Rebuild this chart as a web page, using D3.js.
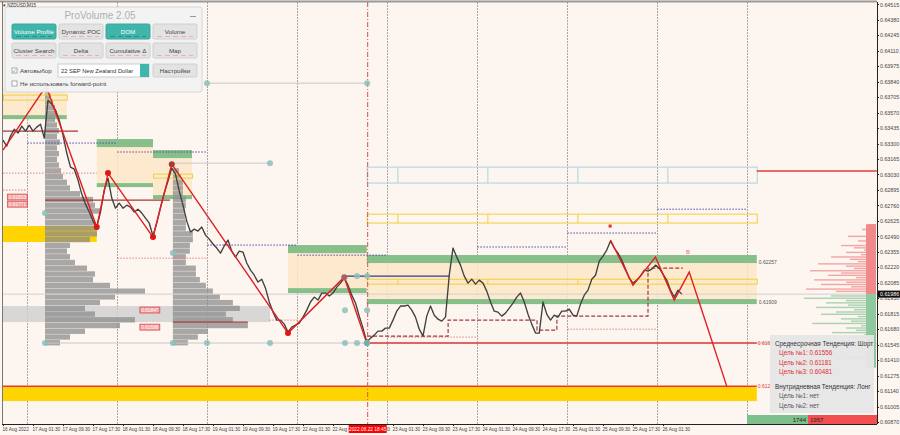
<!DOCTYPE html>
<meta charset="utf-8">
<style>
body { margin: 0; background: #fdf5f0; }
svg { display: block; font-family: "Liberation Sans", Arial, sans-serif; }
.axis path, .axis line { stroke: #222; shape-rendering: crispEdges; }
.axis text { fill: #444; }
.grid { stroke: #a8a8a8; stroke-dasharray: 2,1; shape-rendering: crispEdges; }
</style>
<body>
<script src="https://d3js.org/d3.v7.min.js"></script>
<script>
// hourly closes, hour 0 = 16 Aug 17:30 (trading hours only)
var closes = [0.63330,0.63278,0.63365,0.63425,0.63391,0.63452,0.63408,0.63460,0.63408,0.63443,
  0.63469,0.63347,0.63679,0.63644,0.63592,0.63504,0.63373,0.63217,0.63094,0.63076,
  0.62981,0.62859,0.62771,0.62702,0.62623,0.62571,0.62702,0.62894,0.62998,0.62824,
  0.62736,0.62780,0.62736,0.62762,0.62745,0.62702,0.62727,0.62693,0.62649,0.62606,
  0.62493,0.62606,0.62745,0.62868,0.62972,0.63085,0.63033,0.62885,0.62762,0.62623,
  0.62528,0.62553,0.62536,0.62571,0.62501,0.62466,0.62423,0.62388,0.62344,0.62406,
  0.62458,0.62361,0.62309,0.62361,0.62353,0.62257,0.62195,0.62151,0.62091,0.62116,
  0.62038,0.61917,0.61829,0.61759,0.61759,0.61724,0.61655,0.61698,0.61715,0.61733,
  0.61785,0.61846,0.61917,0.61960,0.61934,0.61995,0.61995,0.61969,0.61995,0.62047,
  0.62082,0.62125,0.62064,0.61977,0.61908,0.61794,0.61689,0.61568,0.61602,0.61628,
  0.61663,0.61663,0.61689,0.61689,0.61759,0.61837,0.61882,0.61882,0.61890,0.61846,
  0.61785,0.61680,0.61620,0.61794,0.61882,0.61802,0.61767,0.61750,0.61785,0.62151,
  0.62388,0.62309,0.62239,0.62143,0.62082,0.62116,0.62073,0.62108,0.62082,0.62012,
  0.61917,0.61837,0.61829,0.61794,0.61820,0.61864,0.61908,0.61960,0.61995,0.61917,
  0.61811,0.61724,0.61646,0.61646,0.61917,0.61811,0.61759,0.61802,0.61785,0.61837,
  0.61837,0.61855,0.61802,0.61794,0.61899,0.61977,0.62021,0.62116,0.62151,0.62274,
  0.62318,0.62370,0.62449,0.62388,0.62344,0.62283,0.62204,0.62125,0.62082,0.62108,
  0.62143,0.62195,0.62186,0.62204,0.62239,0.62213,0.62160,0.62108,0.62021,0.61960,
  0.62021,0.61986];

var timeLabels = ["16 Aug 2022","17 Aug 01:30","17 Aug 09:30","17 Aug 17:30","18 Aug 01:30","18 Aug 09:30",
  "18 Aug 17:30","19 Aug 01:30","19 Aug 09:30","19 Aug 17:30","22 Aug 01:30","22 Aug 09:30","22 Aug 17:30",
  "23 Aug 01:30","23 Aug 09:30","23 Aug 17:30","24 Aug 01:30","24 Aug 09:30","24 Aug 17:30","25 Aug 01:30",
  "25 Aug 09:30","25 Aug 17:30","26 Aug 01:30"];
var labelHours = [0,8,16,24,32,40,48,56,64,72,80,88,96,104,112,120,128,136,144,152,160,168,176];
var dayLines = [6.5,30.5,54.5,78.5,102.5,126.5,150.5,174.5,198.5];

var priceTicks = [0.64515,0.64380,0.64245,0.64110,0.63975,0.63840,0.63705,0.63570,0.63435,0.63300,
  0.63165,0.63030,0.62895,0.62760,0.62625,0.62490,0.62355,0.62220,0.62085,0.61950,0.61815,0.61680,
  0.61545,0.61410,0.61275,0.61140,0.61005,0.60870];

// zigzag and projection
var zigzagHours = [0, 11.5, 25, 28, 40, 45, 76, 91, 97];
var zigzagPrices = [0.63243, 0.63801, 0.62571, 0.63042, 0.62484, 0.63120, 0.61646, 0.62134, 0.61559];
var markerColors = ["none", "none", "#e01515", "#e01515", "#e01515", "#a83a3a", "#e01515", "#a86060", "#6fb0a8"];
var forecastHours = [162, 168, 174, 179, 183, 193];
var forecastPrices = [0.62458, 0.62064, 0.62309, 0.61934, 0.62178, 0.61183];

// zones: [from, to, top, top band low, bottom band high, bottom]
var zones = [
  [0, 17, 0.63784, 0.63784, 0.63548, 0.63513],
  [25, 40, 0.63339, 0.63269, 0.62955, 0.62920],
  [40, 50.4, 0.63243, 0.63173, 0.62850, 0.62815],
  [76, 97, 0.62414, 0.62344, 0.62038, 0.61995],
  [97, 201, 0.62327, 0.62257, 0.61943, 0.61899]
];
// outlined boxes: [from, to, top, bottom, colour]
var outlineBoxes = [
  [0, 17, 0.63723, 0.63679, "#f2cf3a"],
  [40, 50.4, 0.63033, 0.62998, "#f2cf3a"],
  [97, 201, 0.63094, 0.62955, "#a9d3df"],
  [97, 201, 0.62684, 0.62606, "#f2cf3a"],
  [97, 201, 0.62116, 0.62073, "#f2cf3a"]
];
var boxDividers = [105.3, 129.3, 153.3, 177.3];
var goldBands = [[0, 25, 0.62580, 0.62441], [0, 201, 0.61183, 0.61053]];
var greyBands = [[0, 71.2, 0.61882, 0.61742]];

var redLevels = [[0, 201, 0.61183], [97, 201, 0.61559], [201, 233, 0.63060]];
var pocLines = [[11.2, 44.5, 0.62806], [0, 20, 0.63408], [45.3, 65.3, 0.61742]];
var navyLines = [[91.2, 119.2, 0.62143]];
var navyDotted = [[6.5,30.5,0.63304],[30.5,54.5,0.63226],[54.5,78.5,0.62414],[78.5,102.5,0.62326],
  [126.5,150.5,0.62397],[150.5,174.5,0.62519],[174.5,198.5,0.62727]];
var pinkDotted = [[0,25,0.63042],[0,6.5,0.62894],[30.5,54.5,0.62300],[71,78.5,0.61759],
  [102.5,126.5,0.61611],[150.5,174.5,0.61680]];
var stepHours = [97.1, 118.7, 118.7, 142.4, 142.4, 147.7, 147.7, 172, 172, 181.3];
var stepPrices = [0.61620, 0.61620, 0.61759, 0.61759, 0.61672, 0.61672, 0.61794, 0.61794, 0.62213, 0.62213];
var greyLines = [[11.2, 233, 0.61559], [54.4, 97.1, 0.63827], [45.3, 71.2, 0.63129]];

var tealHours = [11.2, 45.3, 54.4, 71.2, 91.2, 94.4, 97.1, 11.2, 45.3, 71.2, 54.4, 97.1, 91.2, 97.1, 94.4, 97.1];
var tealPrices = [0.61559, 0.61559, 0.61559, 0.61559, 0.61559, 0.61559, 0.61559, 0.62693, 0.62344, 0.63129,
  0.63827, 0.63827, 0.61846, 0.61846, 0.62143, 0.62143];

// volume profiles, bins of 0.0005 starting at 0.6156
var profileBase = 0.6156, profileStep = 0.0005;
var profile1 = [15,25,40,75,90,50,40,55,70,100,65,48,50,42,30,25,22,25,45,52,52,50,48,55,50,48,35,25,22,18,
  16,14,12,14,12,15,12,14,12,10,12,10,8,6,4];
var profile2 = [15,25,35,75,60,53,67,60,47,40,33,27,23,23,13,13,17,17,20,20,13,13,12,12,13,13,10,10,10,8,6];

// DOM, rows of 0.0002 away from price
var domAsk = [40,70,25,55,30,62,20,48,35,66,22,30,58,18,26,45,15,30,12,22,35,10,18,8,28,10,6,14,5,8];
var domBid = [45,72,30,50,28,60,22,40,55,18,35,25,64,15,30,20,44,12,26,9,38,15,8,20,6,12,5,30,4,8,3,5];

var priceLabels = [[0.62833, 1.2], [0.62771, 1.2], [0.61847, 36.5], [0.61698, 36.5]];

// set the dimensions
var width = 900, height = 435;
var x = d3.scaleLinear().domain([0, 233]).range([3, 876.75]);
var y = d3.scaleLinear().domain([0.60870, 0.64515]).range([422, 4.3]);
var vol = d3.scaleLinear().domain([0, 100]).range([0, 100]);

var svg = d3.select("body").append("svg")
    .attr("width", width)
    .attr("height", height);

svg.append("rect").attr("width", width).attr("height", height).attr("fill", "#fdf5f0");

svg.append("clipPath").attr("id", "plotclip")
  .append("rect").attr("x", 2).attr("y", 2).attr("width", 875).attr("height", 422);
var g = svg.append("g").attr("clip-path", "url(#plotclip)");

// day separators
g.selectAll(".grid").data(dayLines).enter().append("line")
    .attr("class", "grid")
    .attr("x1", function(d) { return Math.round(x(d)) + 0.5; })
    .attr("x2", function(d) { return Math.round(x(d)) + 0.5; })
    .attr("y1", 2).attr("y2", 424);

// bands
g.selectAll(".gold").data(goldBands).enter().append("rect")
    .attr("x", function(d) { return x(d[0]); })
    .attr("width", function(d) { return x(d[1]) - x(d[0]); })
    .attr("y", function(d) { return y(d[2]); })
    .attr("height", function(d) { return y(d[3]) - y(d[2]); })
    .attr("fill", "#ffd400");
g.selectAll(".greyband").data(greyBands).enter().append("rect")
    .attr("x", function(d) { return x(d[0]); })
    .attr("width", function(d) { return x(d[1]) - x(d[0]); })
    .attr("y", function(d) { return y(d[2]); })
    .attr("height", function(d) { return y(d[3]) - y(d[2]); })
    .attr("fill", "#cfcfcf").attr("fill-opacity", 0.8);

// zones
zones.forEach(function(z) {
  g.append("rect")
      .attr("x", x(z[0])).attr("width", x(z[1]) - x(z[0]))
      .attr("y", y(z[2])).attr("height", y(z[5]) - y(z[2]))
      .attr("fill", "#fde8c8").attr("fill-opacity", 0.85);
  g.append("rect")
      .attr("x", x(z[0])).attr("width", x(z[1]) - x(z[0]))
      .attr("y", y(z[2])).attr("height", y(z[3]) - y(z[2]))
      .attr("fill", "#86bf8a");
  g.append("rect")
      .attr("x", x(z[0])).attr("width", x(z[1]) - x(z[0]))
      .attr("y", y(z[4])).attr("height", y(z[5]) - y(z[4]))
      .attr("fill", "#86bf8a");
});

// volume profiles
function drawProfile(data, anchor, colour, opacity) {
  g.append("g").selectAll("rect").data(data).enter().append("rect")
      .attr("x", x(anchor))
      .attr("y", function(d, i) { return y(profileBase + (i + 0.5) * profileStep); })
      .attr("width", function(d) { return vol(d); })
      .attr("height", function(d, i) { return y(profileBase + (i - 0.5) * profileStep) - y(profileBase + (i + 0.5) * profileStep) - 0.4; })
      .attr("fill", colour).attr("fill-opacity", opacity);
}
drawProfile(profile1, 11.2, "#8c8c8c", 0.75);
drawProfile(profile2, 45.3, "#8c8c8c", 0.75);

// outlined boxes
g.selectAll(".obox").data(outlineBoxes).enter().append("rect")
    .attr("x", function(d) { return x(d[0]) + 0.5; })
    .attr("width", function(d) { return x(d[1]) - x(d[0]); })
    .attr("y", function(d) { return y(d[2]); })
    .attr("height", function(d) { return y(d[3]) - y(d[2]); })
    .attr("fill", "none").attr("stroke", function(d) { return d[4]; }).attr("stroke-width", 1);
outlineBoxes.slice(2).forEach(function(b) {
  boxDividers.forEach(function(h) {
    g.append("line").attr("x1", x(h)).attr("x2", x(h))
        .attr("y1", y(b[2])).attr("y2", y(b[3]))
        .attr("stroke", b[4]);
  });
});

// thin grey levels
g.selectAll(".gl").data(greyLines).enter().append("line")
    .attr("x1", function(d) { return x(d[0]); })
    .attr("x2", function(d) { return x(d[1]); })
    .attr("y1", function(d) { return y(d[2]); })
    .attr("y2", function(d) { return y(d[2]); })
    .attr("stroke", "#c8c8c8");
// current price line
g.append("line").attr("x1", 2).attr("x2", 877)
    .attr("y1", y(closes[closes.length - 1])).attr("y2", y(closes[closes.length - 1]))
    .attr("stroke", "#d0d0d0");

function hline(sel, data, colour, w, dash) {
  sel.selectAll(null).data(data).enter().append("line")
      .attr("x1", function(d) { return x(d[0]); })
      .attr("x2", function(d) { return x(d[1]); })
      .attr("y1", function(d) { return y(d[2]); })
      .attr("y2", function(d) { return y(d[2]); })
      .attr("stroke", colour).attr("stroke-width", w)
      .attr("stroke-dasharray", dash);
}
hline(g, navyDotted, "#4b4bb0", 1, "1.5,1.5");
hline(g, pinkDotted, "#e08080", 1, "1.5,1.5");
hline(g, pocLines, "#a33838", 1.2, null);
hline(g, navyLines, "#2b3b8c", 1.3, null);
hline(g, redLevels, "#e53a3a", 1.5, null);

// stepped dashed line
g.append("path")
    .datum(d3.range(stepHours.length))
    .attr("fill", "none").attr("stroke", "#a33a3a").attr("stroke-width", 1.2)
    .attr("stroke-dasharray", "4,2")
    .attr("d", d3.line().x(function(i) { return x(stepHours[i]); }).y(function(i) { return y(stepPrices[i]); }));

// red level labels
g.selectAll(".lvlTxt").data([0.61183, 0.61559]).enter().append("text")
    .attr("x", x(201) + 1).attr("y", function(d) { return y(d) + 2; })
    .attr("font-size", 5).attr("fill", "#e53a3a")
    .text(function(d) { return d.toFixed(3); });
g.selectAll(".zoneTxt").data([0.62257, 0.61909]).enter().append("text")
    .attr("x", x(201) + 2).attr("y", function(d) { return y(d) + 1; })
    .attr("font-size", 5).attr("fill", "#555")
    .text(function(d) { return d.toFixed(5); });

// time marker
g.append("line")
    .attr("x1", x(97.25)).attr("x2", x(97.25)).attr("y1", 2).attr("y2", 424)
    .attr("stroke", "#d45050").attr("stroke-dasharray", "5,2,1,2");

// price line
g.append("path")
    .datum(closes)
    .attr("fill", "none").attr("stroke", "#404040").attr("stroke-width", 1.35)
    .attr("stroke-linejoin", "round")
    .attr("d", d3.line().x(function(d, i) { return x(i); }).y(function(d) { return y(d); }));

// zigzag
var zz = d3.line().x(function(i) { return x(zigzagHours[i]); }).y(function(i) { return y(zigzagPrices[i]); });
g.append("path").datum(d3.range(zigzagHours.length))
    .attr("fill", "none").attr("stroke", "#e02020").attr("stroke-width", 1.4).attr("d", zz);
var fz = d3.line().x(function(i) { return x(forecastHours[i]); }).y(function(i) { return y(forecastPrices[i]); });
g.append("path").datum(d3.range(forecastHours.length))
    .attr("fill", "none").attr("stroke", "#e02020").attr("stroke-width", 1.4).attr("d", fz);

g.selectAll(".teal").data(tealHours).enter().append("circle")
    .attr("cx", function(d) { return x(d); })
    .attr("cy", function(d, i) { return y(tealPrices[i]); })
    .attr("r", 3).attr("fill", "#8dbfb8").attr("fill-opacity", 0.85);

g.selectAll(".zzdot").data(zigzagHours).enter().append("circle")
    .filter(function(d, i) { return markerColors[i] !== "none"; })
    .attr("cx", function(d) { return x(d); })
    .attr("cy", function(d) { return y(zigzagPrices[zigzagHours.indexOf(d)]); })
    .attr("r", 3)
    .attr("fill", function(d) { return markerColors[zigzagHours.indexOf(d)]; });

g.append("rect").attr("x", x(161.9) - 1.5).attr("y", y(0.62580) - 1.5)
    .attr("width", 3).attr("height", 3).attr("fill", "#e03030");
g.append("text").attr("x", x(182.7)).attr("y", y(0.62335))
    .attr("font-size", 6).attr("fill", "#e87070").attr("text-anchor", "middle").text("B");

// small red price labels
g.selectAll(".plab").data(priceLabels).enter().append("g")
    .attr("transform", function(d) { return "translate(" + x(d[1]) + "," + (y(d[0]) - 3) + ")"; })
    .each(function(d) {
      var s = d3.select(this);
      s.append("rect").attr("width", 20).attr("height", 6)
          .attr("fill", "#f0a0a0").attr("stroke", "#d83030").attr("stroke-width", 0.6);
      s.append("text").attr("x", 10).attr("y", 4.6).attr("text-anchor", "middle")
          .attr("font-size", 4.8).attr("fill", "#fff").text(d[0].toFixed(5));
    });

// DOM histogram
var last = closes[closes.length - 1];
g.selectAll(".ask").data(domAsk).enter().append("rect")
    .attr("x", function(d) { return 876 - vol(d); })
    .attr("y", function(d, i) { return y(last + 0.0001 + (i + 1) * 0.0002); })
    .attr("width", function(d) { return vol(d); })
    .attr("height", 1.4)
    .attr("fill", "#f08a8a").attr("fill-opacity", 0.75);
g.selectAll(".bid").data(domBid).enter().append("rect")
    .attr("x", function(d) { return 876 - vol(d); })
    .attr("y", function(d, i) { return y(last - 0.0001 - i * 0.0002); })
    .attr("width", function(d) { return vol(d); })
    .attr("height", 1.4)
    .attr("fill", "#8ec89c").attr("fill-opacity", 0.75);
g.append("rect").attr("x", 866).attr("y", y(last + 0.0061)).attr("width", 10)
    .attr("height", y(last) - y(last + 0.0061)).attr("fill", "#f08a8a");
g.append("rect").attr("x", 866).attr("y", y(last)).attr("width", 10)
    .attr("height", y(last - 0.0064) - y(last)).attr("fill", "#8ec89c");

// trend info box
var info = svg.append("g");
info.append("rect").attr("x", 770).attr("y", 335).attr("width", 104).attr("height", 78)
    .attr("fill", "#e6e6e6").attr("fill-opacity", 0.95);
var infoLines = [
  ["Среднесрочная Тенденция: Шорт", 775, 346, "#333"],
  ["Цель №1: 0.61556", 779, 355, "#e03030"],
  ["Цель №2: 0.61181", 779, 364.5, "#e03030"],
  ["Цель №3: 0.60481", 779, 374, "#e03030"],
  ["Внутридневная Тенденция: Лонг", 775, 389, "#333"],
  ["Цель №1: нет", 779, 398, "#555"],
  ["Цель №2: нет", 779, 407.5, "#555"]
];
info.selectAll("text").data(infoLines).enter().append("text")
    .attr("x", function(d) { return d[1]; }).attr("y", function(d) { return d[2]; })
    .attr("font-size", 6.3).attr("fill", function(d) { return d[3]; })
    .text(function(d) { return d[0]; });

// buy / sell counts
var buyCount = 1744, sellCount = 1957;
svg.append("rect").attr("x", 747).attr("y", 415).attr("width", 61).attr("height", 9).attr("fill", "#7fbf8c");
svg.append("rect").attr("x", 808).attr("y", 415).attr("width", 69).attr("height", 9).attr("fill", "#f25050");
svg.append("text").attr("x", 806).attr("y", 422).attr("text-anchor", "end").attr("font-size", 6).attr("fill", "#222").text(buyCount);
svg.append("text").attr("x", 810).attr("y", 422).attr("font-size", 6).attr("fill", "#222").text(sellCount);

// frame
svg.append("line").attr("x1", 0).attr("x2", 877).attr("y1", 1.5).attr("y2", 1.5).attr("stroke", "#999").attr("stroke-width", 2);
svg.append("line").attr("x1", 2.5).attr("x2", 2.5).attr("y1", 1).attr("y2", 424).attr("stroke", "#777");

// Add the X Axis
var xAxis = svg.append("g").attr("class", "axis")
    .attr("transform", "translate(0,424)")
    .call(d3.axisBottom(x).tickValues(labelHours).tickSize(2)
        .tickFormat(function(d, i) { return timeLabels[i]; }));
xAxis.select(".domain").attr("d", "M2,0.5H877");
xAxis.selectAll("text").attr("text-anchor", "start").attr("x", -1).attr("y", 4).attr("font-size", 4.7);

// time marker label
svg.append("rect").attr("x", x(97.25) - 19).attr("y", 425).attr("width", 38).attr("height", 8).attr("fill", "#f00");
svg.append("text").attr("x", x(97.25)).attr("y", 431).attr("text-anchor", "middle")
    .attr("font-size", 4.8).attr("fill", "#fff").text("2022.08.22 18:45");

// Add the Y Axis
var yAxis = svg.append("g").attr("class", "axis")
    .attr("transform", "translate(877,0)")
    .call(d3.axisRight(y).tickValues(priceTicks).tickSize(2).tickFormat(d3.format(".5f")));
yAxis.select(".domain").attr("d", "M0.5,2V424");
yAxis.selectAll("text").attr("x", 3).attr("font-size", 5.3);

// current price tag
svg.append("rect").attr("x", 878).attr("y", y(last) - 3.5).attr("width", 22).attr("height", 7).attr("fill", "#111");
svg.append("text").attr("x", 880).attr("y", y(last) + 1.8).attr("font-size", 5.3).attr("fill", "#fff").text(last.toFixed(5));

// ProVolume panel
var panel = svg.append("g");
svg.append("text").attr("x", 3).attr("y", 6.5).attr("font-size", 4.5).attr("fill", "#333").text("▾ NZDUSD,M15");
panel.append("rect").attr("x", 5).attr("y", 7).attr("width", 197).attr("height", 85).attr("rx", 2)
    .attr("fill", "#f2f2f2").attr("fill-opacity", 0.96).attr("stroke", "#d6d6d6");
panel.append("text").attr("x", 100).attr("y", 18.5).attr("text-anchor", "middle")
    .attr("font-size", 10).attr("fill", "#b0b0b0").text("ProVolume 2.05");
panel.append("line").attr("x1", 190).attr("x2", 196).attr("y1", 16.5).attr("y2", 16.5).attr("stroke", "#999");

var buttonRows = [["Volume Profile", "Dynamic POC", "DOM", "Volume"], ["Cluster Search", "Delta", "Cumulative Δ", "Map"]];
var activeButtons = ["Volume Profile", "DOM"];
buttonRows.forEach(function(row, r) {
  row.forEach(function(label, c) {
    var bx = 12 + c * 47, by = 24 + r * 19;
    var on = activeButtons.indexOf(label) >= 0;
    panel.append("rect").attr("x", bx).attr("y", by).attr("width", 44).attr("height", 15).attr("rx", 1.5)
        .attr("fill", on ? "#3fb5ab" : "#e3e3e3").attr("stroke", on ? "#3aa89e" : "#d0d0d0");
    panel.append("text").attr("x", bx + 22).attr("y", by + 9.5).attr("text-anchor", "middle")
        .attr("font-size", 6.2).attr("fill", on ? "#fff" : "#444").text(label);
    panel.append("line").attr("x1", bx + 4).attr("x2", bx + 40).attr("y1", by + 12.5).attr("y2", by + 12.5)
        .attr("stroke", on ? "#2f8f87" : "#e8b0b0").attr("stroke-dasharray", "5,3");
  });
});
panel.append("rect").attr("x", 12).attr("y", 68).attr("width", 5).attr("height", 5).attr("fill", "#fff").attr("stroke", "#aaa");
panel.append("text").attr("x", 12).attr("y", 73).attr("font-size", 6).attr("fill", "#3fb5ab").text("✓");
panel.append("text").attr("x", 20).attr("y", 73).attr("font-size", 6.2).attr("fill", "#444").text("Автовыбор");
panel.append("rect").attr("x", 58).attr("y", 64).attr("width", 91).attr("height", 13).attr("fill", "#fff").attr("stroke", "#ccc");
panel.append("text").attr("x", 61).attr("y", 72.5).attr("font-size", 5.8).attr("fill", "#333").text("22 SEP New Zealand Dollar");
panel.append("rect").attr("x", 140).attr("y", 64).attr("width", 9).attr("height", 13).attr("fill", "#3fb5ab");
panel.append("rect").attr("x", 153).attr("y", 64).attr("width", 44).attr("height", 13).attr("rx", 1.5)
    .attr("fill", "#e3e3e3").attr("stroke", "#d0d0d0");
panel.append("text").attr("x", 175).attr("y", 72.5).attr("text-anchor", "middle").attr("font-size", 6.2).attr("fill", "#444").text("Настройки");
panel.append("rect").attr("x", 12).attr("y", 81).attr("width", 5).attr("height", 5).attr("fill", "#fff").attr("stroke", "#aaa");
panel.append("text").attr("x", 20).attr("y", 86).attr("font-size", 6.2).attr("fill", "#444").text("Не использовать forward-point");
</script>
</body>
